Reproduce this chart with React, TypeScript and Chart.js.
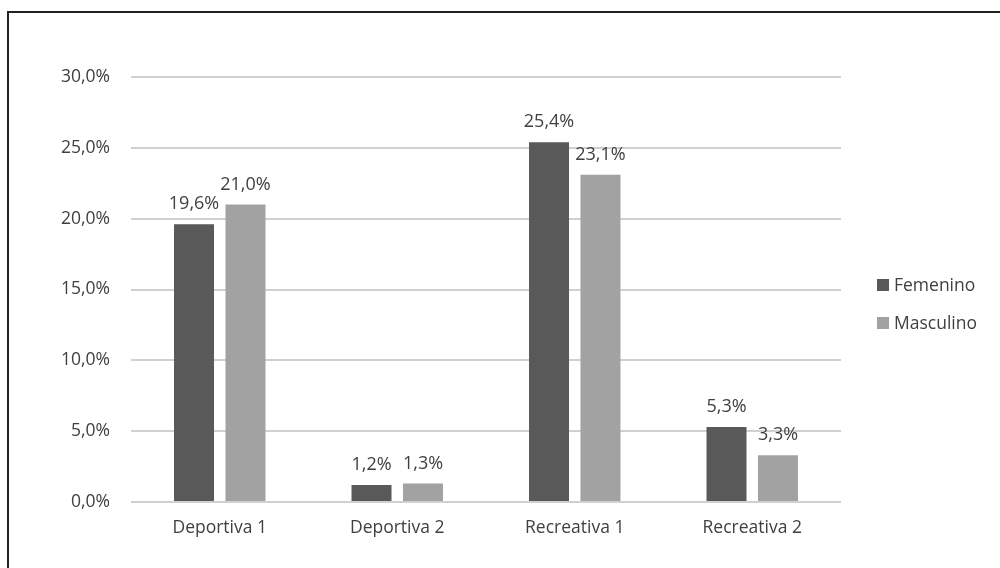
import React, { useEffect, useRef } from "react";
import { Chart, registerables } from "chart.js";

Chart.register(...registerables);

const categories = ["Deportiva 1", "Deportiva 2", "Recreativa 1", "Recreativa 2"];
const femenino = [19.6, 1.2, 25.4, 5.3];
const masculino = [21.0, 1.3, 23.1, 3.3];
const seriesNames = ["Femenino", "Masculino"];
const seriesColors = ["#595959", "#a2a2a2"];
const yTicks = [0, 5, 10, 15, 20, 25, 30];

const FONT = "'Open Sans', 'Liberation Sans', sans-serif";
const fmt = (v: number) => v.toFixed(1).replace(".", ",") + "%";

const labelsPlugin = {
  id: "valueLabels",
  afterDatasetsDraw(chart: any) {
    const ctx = chart.ctx;
    ctx.save();
    ctx.font = `18px ${FONT}`;
    ctx.fillStyle = "#404040";
    ctx.textAlign = "center";
    ctx.textBaseline = "middle";
    chart.data.datasets.forEach((ds: any, i: number) => {
      const meta = chart.getDatasetMeta(i);
      meta.data.forEach((bar: any, j: number) => {
        ctx.fillText(fmt(ds.data[j]), bar.x, bar.y - 20);
      });
    });
    ctx.restore();
  },
};

const legendPlugin = {
  id: "customLegend",
  afterDraw(chart: any) {
    const ctx = chart.ctx;
    ctx.save();
    ctx.font = `17.5px ${FONT}`;
    ctx.textBaseline = "middle";
    ctx.textAlign = "left";
    const ys = [285, 323];
    seriesNames.forEach((name, i) => {
      ctx.fillStyle = seriesColors[i];
      ctx.fillRect(877, ys[i] - 6, 12, 12);
      ctx.fillStyle = "#404040";
      ctx.fillText(name, 894, ys[i] + 1);
    });
    ctx.restore();
  },
};

export default function App() {
  const ref = useRef<HTMLCanvasElement>(null);
  useEffect(() => {
    if (!ref.current) return;
    const chart = new Chart(ref.current, {
      type: "bar",
      data: {
        labels: categories,
        datasets: [
          { label: seriesNames[0], data: femenino, backgroundColor: seriesColors[0] },
          { label: seriesNames[1], data: masculino, backgroundColor: seriesColors[1] },
        ],
      },
      options: {
        responsive: false,
        animation: false,
        layout: { padding: { top: 77, right: 159, bottom: 0, left: 0 } },
        datasets: { bar: { categoryPercentage: 0.58, barPercentage: 0.777 } },
        plugins: { legend: { display: false }, tooltip: { enabled: false } },
        scales: {
          x: {
            grid: { display: false, drawTicks: false },
            border: { display: false },
            ticks: { color: "#404040", font: { family: FONT, size: 17.5 }, padding: 16 },
            afterFit: (s: any) => { s.height = 66; },
          },
          y: {
            min: 0,
            max: 30,
            afterBuildTicks: (s: any) => { s.ticks = yTicks.map((v) => ({ value: v })); },
            grid: { color: "#d0d0d0", lineWidth: 2, drawTicks: false },
            border: { display: false },
            ticks: {
              color: "#404040",
              font: { family: FONT, size: 17.5 },
              padding: 21,
              callback: (v: any) => fmt(Number(v)),
            },
            afterFit: (s: any) => { s.width = 131; },
          },
        },
      },
      plugins: [labelsPlugin, legendPlugin],
    });
    return () => chart.destroy();
  }, []);
  return (
    <div>
      <canvas
        ref={ref}
        width={1000}
        height={568}
        style={{ position: "absolute", left: 0, top: 0, width: 1000, height: 568 }}
      />
      <div
        style={{
          position: "absolute",
          left: 7,
          top: 11,
          width: 1100,
          height: 700,
          borderTop: "2px solid #222",
          borderLeft: "2px solid #222",
          pointerEvents: "none",
        }}
      />
    </div>
  );
}
